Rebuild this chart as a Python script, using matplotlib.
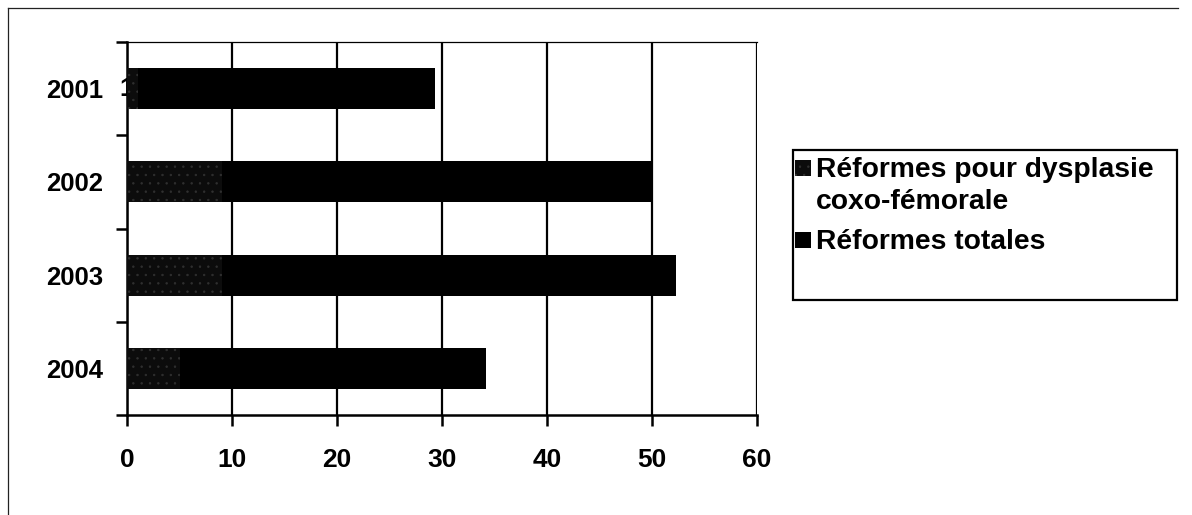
import matplotlib.pyplot as plt
import numpy as np
from matplotlib.lines import Line2D
from matplotlib.patches import Rectangle

plt.rcParams['font.family'] = ['Liberation Sans', 'DejaVu Sans']
plt.rcParams['font.weight'] = 'bold'
plt.rcParams['hatch.color'] = '#303030'
plt.rcParams['hatch.linewidth'] = 0.5

years = ['2001', '2002', '2003', '2004']
dysplasie = [1, 9, 9, 5]
totales = [29.3, 50, 52.3, 34.2]
series_names = ['Réformes pour dysplasie\ncoxo-fémorale', 'Réformes totales']

W, H = 1192, 515
fig = plt.figure(figsize=(W / 100, H / 100), dpi=100)
ax = fig.add_axes([127 / W, 1 - 415 / H, (757 - 127) / W, (415 - 42) / H])

y = np.arange(len(years))
bh = 0.44

# totals behind, dysplasia on top (100% overlap)
ax.barh(y, totales, height=bh, color='black', zorder=3)
ax.barh(y, dysplasie, height=bh, color='#0c0c0c', hatch='..', linewidth=0, zorder=4)

# data label of the first dysplasia bar
ax.text(0, y[0], str(dysplasie[0]), ha='center', va='center', fontsize=19,
        fontweight='bold', zorder=2)

ax.set_xlim(0, 60)
ax.set_ylim(len(years) - 0.5, -0.5)
ax.set_xticks(np.arange(0, 61, 10))
ax.set_yticks(y)
ax.set_yticklabels(years)
ax.set_yticks(np.arange(-0.5, len(years)), minor=True)
ax.tick_params(axis='y', which='major', length=0, pad=17, labelsize=18.5)
ax.tick_params(axis='y', which='minor', length=8, width=1.8, direction='out')
ax.tick_params(axis='x', length=8, width=1.8, direction='out', pad=16, labelsize=19)

ax.grid(axis='x', color='black', linewidth=1.6, zorder=1)
ax.set_axisbelow(True)
for s in ['left', 'bottom']:
    ax.spines[s].set_linewidth(1.8)
ax.spines['top'].set_linewidth(0.9)
ax.spines['right'].set_visible(False)

# legend box drawn in pixel coordinates of the figure
def fx(px):
    return px / W

def fy(py):
    return 1 - py / H

fig.add_artist(Rectangle((fx(793), fy(300)), fx(1177) - fx(793), fy(150) - fy(300),
                         transform=fig.transFigure, fill=False, edgecolor='black', lw=1.6))
fig.add_artist(Rectangle((fx(795), fy(176)), fx(811) - fx(795), fy(160) - fy(176),
                         transform=fig.transFigure, facecolor='#0c0c0c', hatch='..', lw=0))
fig.add_artist(Rectangle((fx(795), fy(248)), fx(811) - fx(795), fy(232) - fy(248),
                         transform=fig.transFigure, facecolor='black', lw=0))
line1, line2 = series_names[0].split('\n')
for txt, base in [(line1, 177), (line2, 209), (series_names[1], 249)]:
    fig.text(fx(816), fy(base), txt, fontsize=20.3, fontweight='bold',
             va='baseline', ha='left')

# scanned page frame, top and left edges
fig.add_artist(Line2D([8 / W, 8 / W], [0, 1 - 8 / H], color='#222', lw=0.9))
fig.add_artist(Line2D([8 / W, 1178 / W], [1 - 8 / H, 1 - 8 / H], color='#222', lw=0.9))

fig.savefig('out.png', dpi=100, facecolor='white')
